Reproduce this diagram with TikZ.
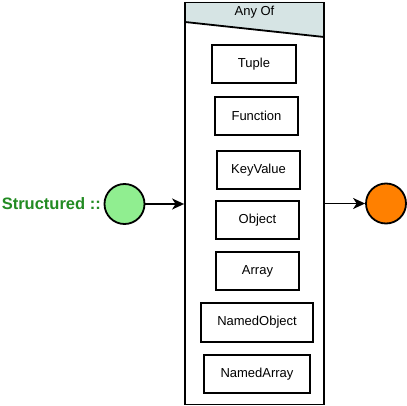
\documentclass[tikz,border=0pt]{standalone}
\usepackage{fontspec}
\setmainfont{Liberation Sans}
\usetikzlibrary{arrows.meta}
\definecolor{hdr}{HTML}{D6E4E4}
\definecolor{sgreen}{RGB}{34,139,34}
\definecolor{lgreen}{HTML}{90EE90}
\definecolor{dorange}{HTML}{FF8000}
\tikzset{
  itembox/.style={draw=black, line width=2pt, fill=white, inner sep=0pt,
    font=\fontsize{13}{15}\selectfont},
  endpoint/.style={circle, draw=black, line width=1.8pt, minimum size=40pt, inner sep=0pt},
  conn/.style={line width=1.8pt, -{Stealth[length=12pt,width=11pt,inset=3.5pt]}},
}
\begin{document}
\begin{tikzpicture}[x=1pt,y=-1pt]
\useasboundingbox (0,0) rectangle (407,406);
% container
\fill[hdr] (185,2) -- (324,2) -- (324,37) -- (185,22) -- cycle;
\draw[line width=1.8pt] (185,22) -- (324,37);
\node[draw=black, line width=1.8pt, minimum width=139pt, minimum height=402pt, inner sep=0pt] (cont) at (254.5,203.5) {};
\node[font=\fontsize{13}{15}\selectfont] (anyof) at (254.5,12) {Any Of};
% items
\node[itembox, minimum width=84pt, minimum height=38pt] (tuple) at (254,64) {Tuple};
\node[itembox, minimum width=83pt, minimum height=38pt] (function) at (256.5,116) {Function};
\node[itembox, minimum width=83pt, minimum height=38pt] (keyvalue) at (258.5,170) {KeyValue};
\node[itembox, minimum width=83pt, minimum height=38pt] (object) at (257.5,220) {Object};
\node[itembox, minimum width=83pt, minimum height=38pt] (array) at (257.5,271) {Array};
\node[itembox, minimum width=112pt, minimum height=39pt] (namedobject) at (257,322.5) {NamedObject};
\node[itembox, minimum width=106pt, minimum height=38pt] (namedarray) at (257,374) {NamedArray};
% endpoints
\node[endpoint, fill=lgreen] (start) at (124.5,204) {};
\node[endpoint, fill=dorange] (stop) at (386,203.5) {};
\node[anchor=east, text=sgreen, font=\fontsize{16.5}{19}\selectfont\bfseries, inner sep=0pt] (label) at (101,204) {Structured ::};
% connectors
\draw[conn] (start.east) -- (start.east -| cont.west);
\draw[conn] (stop.west -| cont.east) -- (stop.west);
\end{tikzpicture}
\end{document}
